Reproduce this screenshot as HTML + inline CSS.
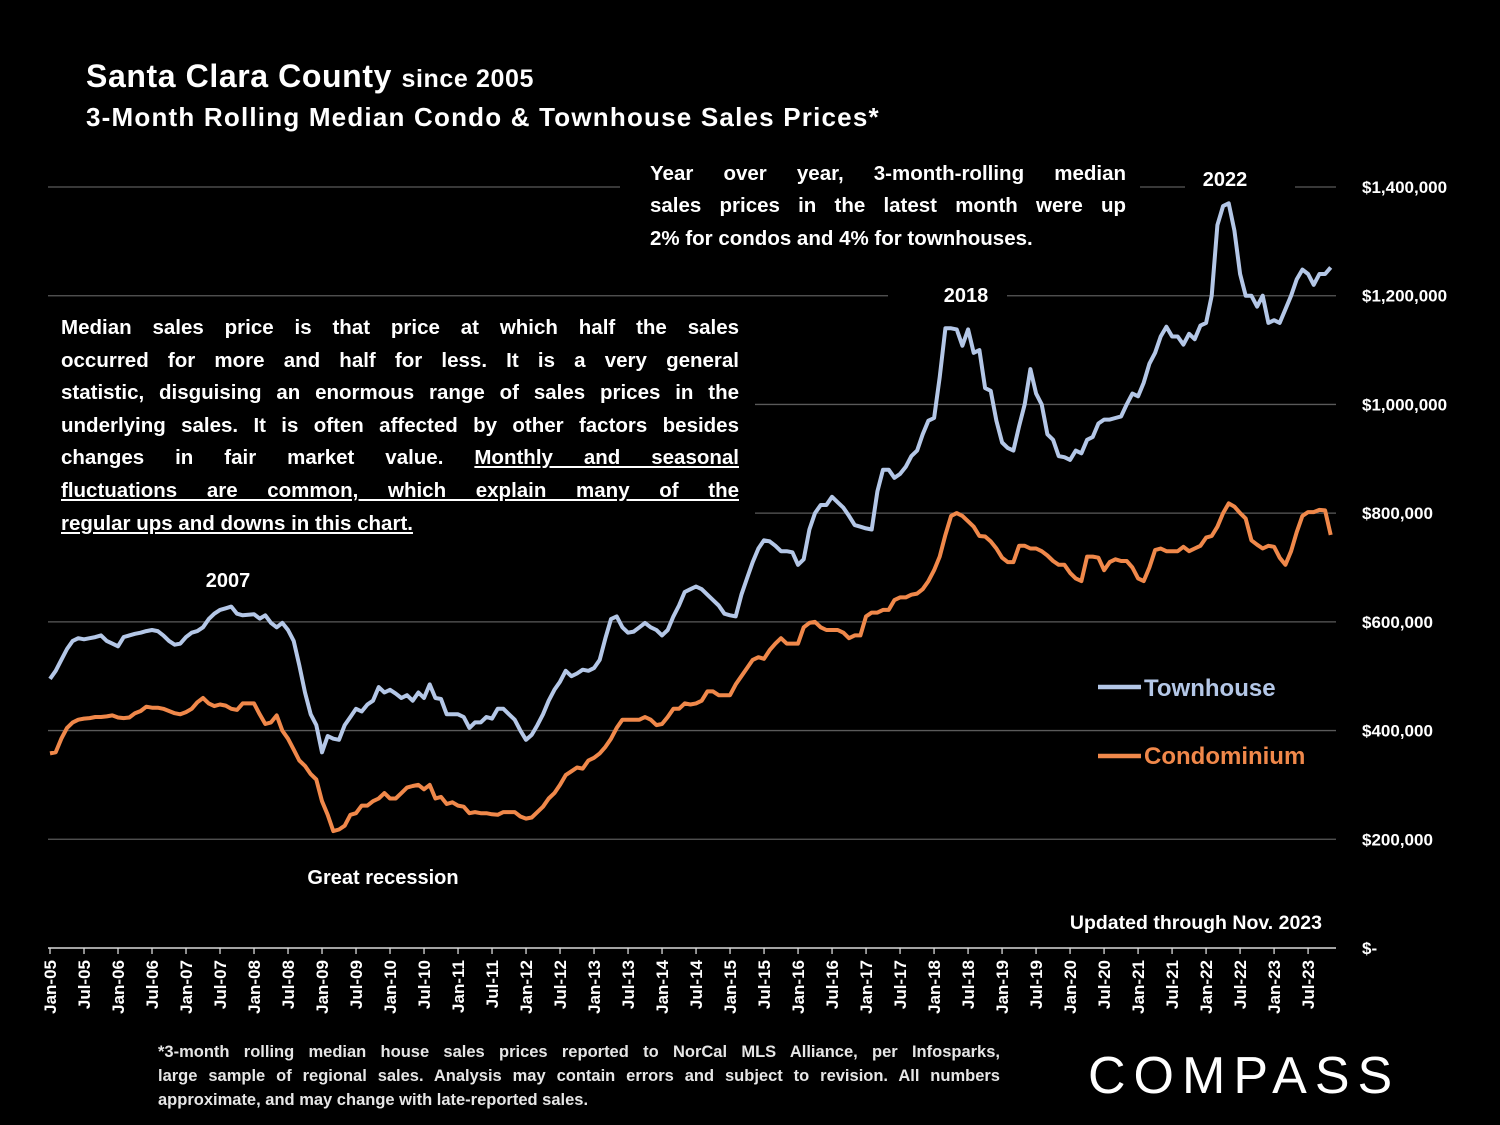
<!DOCTYPE html>
<html><head><meta charset="utf-8">
<style>
html,body{margin:0;padding:0;background:#000;}
body{width:1500px;height:1125px;position:relative;overflow:hidden;font-family:"Liberation Sans",sans-serif;color:#fff;font-weight:bold;}
.abs{position:absolute;}
.jl{text-align:justify;text-align-last:justify;white-space:nowrap;height:32.6px;}
</style></head>
<body>
<div class="abs" style="left:86px;top:58px;font-size:32px;letter-spacing:0.6px;">Santa Clara County <span style="font-size:25px;">since 2005</span></div>
<div class="abs" style="left:86px;top:102px;font-size:26px;letter-spacing:1.2px;">3-Month Rolling Median Condo &amp; Townhouse Sales Prices*</div>

<div class="abs" style="left:650px;top:162px;width:476px;font-size:20.5px;">
<div class="jl" style="height:32.3px">Year over year, 3-month-rolling median</div>
<div class="jl" style="height:32.3px">sales prices in the latest month were up</div>
<div style="white-space:nowrap">2% for condos and 4% for townhouses.</div>
</div>

<div class="abs" style="left:61px;top:316px;width:678px;font-size:20.5px;">
<div class="jl">Median sales price is that price at which half the sales</div>
<div class="jl">occurred for more and half for less. It is a very general</div>
<div class="jl">statistic, disguising an enormous range of sales prices in the</div>
<div class="jl">underlying sales. It is often affected by other factors besides</div>
<div class="jl">changes in fair market value. <u>Monthly and seasonal</u></div>
<div class="jl" style="text-decoration:underline">fluctuations are common, which explain many of the</div>
<div style="white-space:nowrap;text-decoration:underline">regular ups and downs in this chart.</div>
</div>

<svg class="abs" style="left:0;top:0" width="1500" height="1125">
<g id="grid"></g>
<g id="axes"></g>
<g id="series"></g>
<text x="228" y="587" text-anchor="middle" font-size="20" fill="#fff" font-weight="bold">2007</text>
<text x="966" y="302" text-anchor="middle" font-size="20" fill="#fff" font-weight="bold">2018</text>
<text x="1225" y="186" text-anchor="middle" font-size="20" fill="#fff" font-weight="bold">2022</text>
<text x="383" y="884" text-anchor="middle" font-size="20" fill="#fff" font-weight="bold">Great recession</text>
<text x="1322" y="929" text-anchor="end" font-size="19.5" fill="#fff" font-weight="bold">Updated through Nov. 2023</text>
<g>
<line x1="1098" y1="687" x2="1141" y2="687" stroke="#b4c7e7" stroke-width="4.5"/>
<text x="1144" y="696" font-size="24" fill="#b4c7e7" font-weight="bold">Townhouse</text>
</g>
<g>
<line x1="1098" y1="756" x2="1141" y2="756" stroke="#f0884a" stroke-width="4.5"/>
<text x="1144" y="764" font-size="24" fill="#f0884a" font-weight="bold">Condominium</text>
</g>
</svg>

<div class="abs" style="left:158px;top:1040px;width:842px;font-size:16.5px;color:#e6e6e6;line-height:24px;">
<div class="jl" style="height:24px">*3-month rolling median house sales prices reported to NorCal MLS Alliance, per Infosparks,</div>
<div class="jl" style="height:24px">large sample of regional sales. Analysis may contain errors and subject to revision. All numbers</div>
<div>approximate, and may change with late-reported sales.</div>
</div>
<div class="abs" style="left:1088px;top:1046px;font-size:52px;font-weight:normal;letter-spacing:8px;">COMPASS</div>

<script>
const yTicks=[0,200000,400000,600000,800000,1000000,1200000,1400000];
const yTickLabels=["$-","$200,000","$400,000","$600,000","$800,000","$1,000,000","$1,200,000","$1,400,000"];
const xTickLabels=["Jan-05","Jul-05","Jan-06","Jul-06","Jan-07","Jul-07","Jan-08","Jul-08","Jan-09","Jul-09","Jan-10","Jul-10","Jan-11","Jul-11","Jan-12","Jul-12","Jan-13","Jul-13","Jan-14","Jul-14","Jan-15","Jul-15","Jan-16","Jul-16","Jan-17","Jul-17","Jan-18","Jul-18","Jan-19","Jul-19","Jan-20","Jul-20","Jan-21","Jul-21","Jan-22","Jul-22","Jan-23","Jul-23"];
const townhouse=[495,510,530,550,565,570,568,570,572,575,565,560,
555,572,575,578,580,583,585,583,575,565,558,560,
572,580,583,590,605,615,622,625,628,615,612,613,
614,606,612,598,590,598,585,565,520,470,430,410,
360,390,385,383,410,425,440,435,448,455,480,470,
475,468,460,465,455,470,460,485,460,458,430,430,
430,425,405,415,415,425,422,440,440,430,420,400,
383,392,410,430,455,475,490,510,500,505,512,510,
515,530,570,605,610,590,580,582,590,598,590,585,
575,585,610,630,655,660,665,660,650,640,630,615,
612,610,650,680,710,735,750,748,740,730,730,728,
705,715,770,800,815,815,830,820,810,795,778,775,
772,770,840,880,880,865,872,885,905,915,945,970,
975,1050,1140,1140,1138,1108,1138,1095,1100,1030,1025,970,
930,920,915,960,1000,1065,1020,1000,945,935,905,903,
898,915,910,935,940,965,972,972,975,978,1000,1020,
1015,1040,1075,1095,1125,1143,1125,1125,1110,1130,1120,1145,
1150,1200,1330,1365,1370,1320,1240,1200,1200,1180,1200,1150,
1155,1150,1175,1200,1230,1248,1240,1220,1240,1240,1252];
const condo=[358,360,385,405,415,420,422,423,425,425,426,428,
424,423,424,432,436,444,442,442,440,436,432,430,
434,440,452,460,450,445,448,446,440,438,450,450,
450,430,412,415,428,400,385,365,345,335,320,310,
270,245,215,218,225,245,248,262,262,270,275,285,
275,275,285,295,298,300,292,300,275,278,265,268,
262,260,248,250,248,248,246,245,250,250,250,242,
238,240,250,260,275,285,300,318,325,332,330,345,
350,358,370,385,405,420,420,420,420,425,420,410,
412,425,440,440,450,448,450,455,472,472,465,465,
465,485,500,515,530,535,532,548,560,570,560,560,
560,590,598,600,590,585,585,585,580,570,575,575,
610,617,617,622,622,640,645,645,650,652,660,675,
695,720,760,795,800,795,785,775,758,757,748,735,
718,710,710,740,740,735,735,730,722,712,705,705,
690,680,675,720,720,718,695,710,715,712,712,700,
680,675,700,732,735,730,730,730,738,730,735,740,
755,758,775,800,818,812,800,790,750,742,735,740,
738,718,705,730,765,795,802,802,806,805,760];

const NS='http://www.w3.org/2000/svg';
const X0=50, DX=5.667, Y0=948, YTOP=187, YMAX=1400000;
function xs(m){return X0+m*DX;}
function ys(v){return Y0-(v/YMAX)*(Y0-YTOP);}
function mk(tag,attrs,parent){const e=document.createElementNS(NS,tag);for(const k in attrs)e.setAttribute(k,attrs[k]);parent.appendChild(e);return e;}

const grid=document.getElementById('grid');
const gaps={1400000:[[620,1140],[1185,1295]],1200000:[[888,1007]],1000000:[[0,755]],800000:[[0,755]]};
yTicks.forEach((v,i)=>{
  const y=ys(v);
  if(v>0){
    let segs=[[48,1336]];
    (gaps[v]||[]).forEach(g=>{const ns=[];segs.forEach(s=>{if(g[1]<=s[0]||g[0]>=s[1]){ns.push(s);}else{if(g[0]>s[0])ns.push([s[0],g[0]]);if(g[1]<s[1])ns.push([g[1],s[1]]);}});segs=ns;});
    segs.forEach(s=>{
      const l=mk('line',{x1:s[0],x2:s[1],y1:y,y2:y,stroke:'#5a5a5a','stroke-width':1.3},grid);
      
      
    });
  }
  const t=mk('text',{x:1362,y:y+6,'font-size':17,fill:'#fff','font-weight':'bold'},grid);
  t.textContent=yTickLabels[i];
  
  
});
const axes=document.getElementById('axes');
const ax=mk('line',{x1:48,x2:1336,y1:Y0,y2:Y0,stroke:'#d9d9d9','stroke-width':1.5},axes);


xTickLabels.forEach((lab,i)=>{
  const x=xs(i*6);
  mk('line',{x1:x,x2:x,y1:Y0,y2:Y0+6,stroke:'#d9d9d9','stroke-width':1.3},axes);
  const t=mk('text',{x:0,y:0,'font-size':17,fill:'#fff','font-weight':'bold','text-anchor':'end',transform:`translate(${x+6},${Y0+12}) rotate(-90)`},axes);
  t.textContent=lab;
  
  
});
const ser=document.getElementById('series');
function drawLine(arr,color,name){
  const d=arr.map((v,i)=>(i?'L':'M')+xs(i).toFixed(1)+','+ys(v*1000).toFixed(1)).join(' ');
  const p=mk('path',{d:d,fill:'none',stroke:color,'stroke-width':4,'stroke-linejoin':'round'},ser);
  
  
}
drawLine(condo,'#f0884a','condominium-line');
drawLine(townhouse,'#b4c7e7','townhouse-line');
</script>
</body></html>
